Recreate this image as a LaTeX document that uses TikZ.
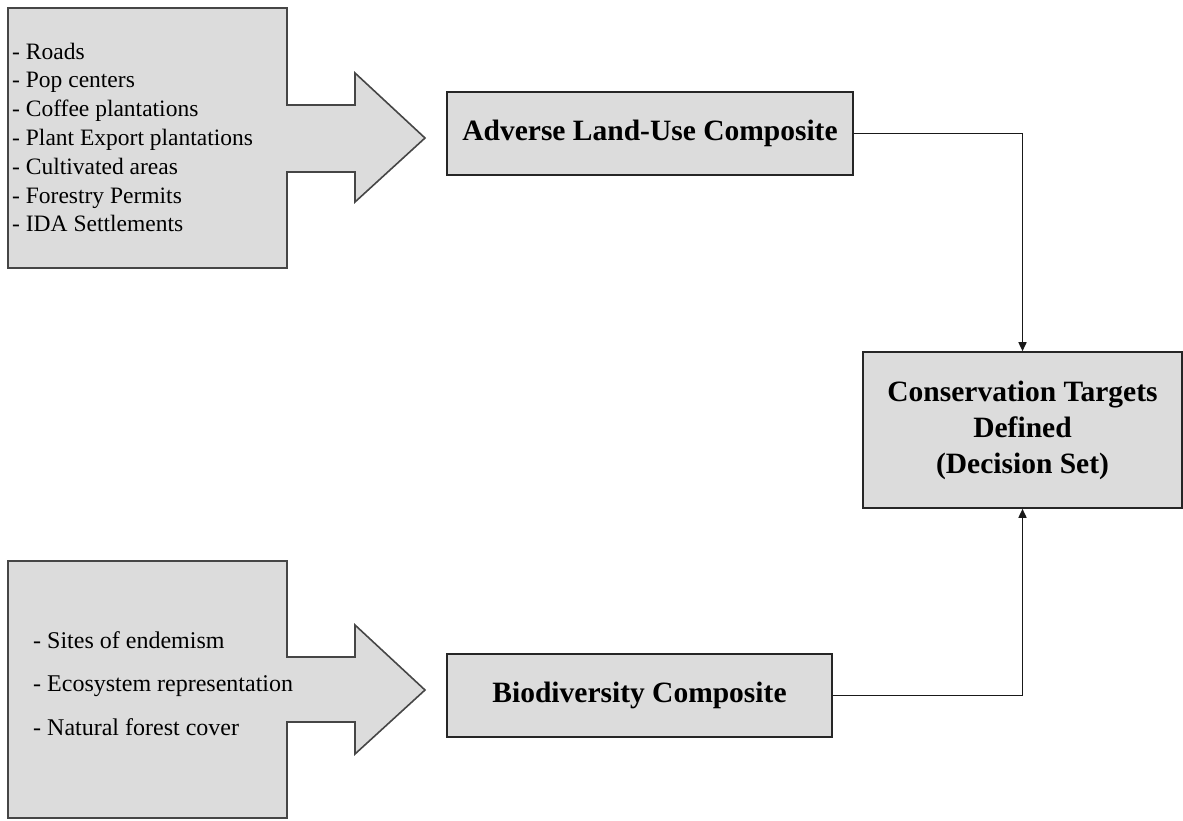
\documentclass[tikz,border=0pt]{standalone}
\usepackage{fontspec}
\setmainfont{Liberation Serif}
\usetikzlibrary{arrows.meta}

\definecolor{panelfill}{RGB}{220,220,220}
\definecolor{paneledge}{RGB}{70,70,70}

\tikzset{
  panel/.style={fill=panelfill, draw=paneledge, line width=1.6pt, line join=miter},
  composite/.style={panel, draw=black!85, font=\fontsize{29.5}{36}\selectfont\bfseries, align=center, inner sep=0pt},
  item/.style={anchor=base west, inner sep=0pt},
  link/.style={line width=1.6pt, draw=black!90, -{Triangle[length=9pt, width=8pt]}}
}

\begin{document}
\begin{tikzpicture}[x=1pt, y=-1pt]
  \useasboundingbox (0,0) rectangle (1183,820);

  % Land-use inputs callout
  \draw[panel] (8,8) -- (287,8) -- (287,105) -- (355,105) -- (355,73) -- (425,138)
        -- (355,202) -- (355,172) -- (287,172) -- (287,268) -- (8,268) -- cycle;
  \foreach \txt [count=\i] in {Roads, Pop centers, Coffee plantations,
      Plant Export plantations, Cultivated areas, Forestry Permits, IDA Settlements}
    \node[item, font=\fontsize{23.5}{29}\selectfont] (use\i) at (12, {59 + 28.8*(\i-1)}) {- \txt};

  % Biodiversity inputs callout
  \draw[panel] (8,561) -- (287,561) -- (287,657) -- (355,657) -- (355,625) -- (425,690)
        -- (355,754) -- (355,722) -- (287,722) -- (287,818) -- (8,818) -- cycle;
  \foreach \txt [count=\i] in {Sites of endemism, Ecosystem representation, Natural forest cover}
    \node[item, font=\fontsize{24}{44}\selectfont] (bio\i) at (33, {648 + 43.5*(\i-1)}) {- \txt};

  % Composites
  \node[composite, minimum width=406pt, minimum height=83pt] (adverse) at (650,133.5)
    {Adverse Land-Use Composite};
  \node[composite, minimum width=385pt, minimum height=83pt] (biodiv) at (639.5,695.5)
    {Biodiversity Composite};

  % Decision set
  \node[composite, minimum width=319pt, minimum height=156pt] (targets) at (1022.5,430)
    {Conservation Targets\\Defined\\(Decision Set)};

  % Connectors
  \draw[link] (adverse.east) -| (targets.north);
  \draw[link] (biodiv.east) -| (targets.south);
\end{tikzpicture}
\end{document}
